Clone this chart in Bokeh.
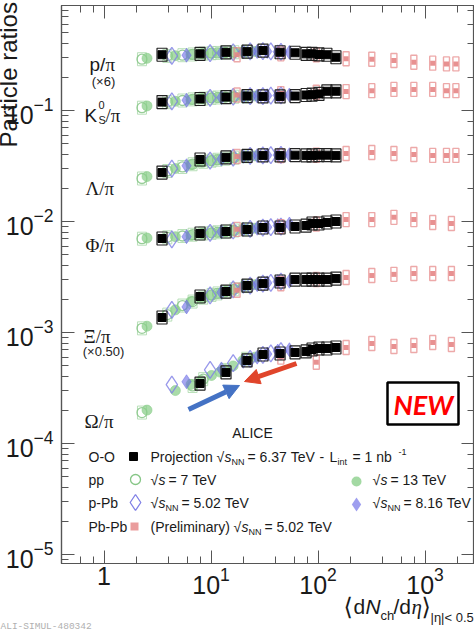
import math
from bokeh.plotting import figure
from bokeh.models import (Range1d, Label, LogAxis, LogTicker, LogTickFormatter,
                          CustomJSTickFormatter, BoxAnnotation, Arrow, NormalHead,
                          ColumnDataSource)
from bokeh.core.properties import value
from bokeh.embed import file_html
from bokeh.resources import INLINE

nan = float("nan")

# ---------------- data (particle ratios vs <dNch/deta>) ----------------
species_names = ["p/pi", "K0S/pi", "Lambda/pi", "Phi/pi", "Xi/pi", "Omega/pi"]
species_scale = [6.0, 1.0, 1.0, 1.0, 0.5, 1.0]

# O-O projection, sqrt(sNN) = 6.37 TeV
oo_x = [3.48, 7.89, 13.8, 21.7, 30.6, 44.2, 61.0, 77.3, 87.9, 102, 121, 147]
oo_p = [0.0530, 0.0540, 0.0557, 0.0565, 0.0578, 0.0558, 0.0552, 0.0540, 0.0540, 0.0533, 0.0530, 0.0503]
oo_k = [0.119, 0.127, 0.132, 0.135, 0.134, 0.134, 0.135, 0.138, 0.139, 0.141, 0.149, 0.149]
oo_lam = [0.0276, 0.0362, 0.0378, 0.0390, 0.0394, 0.0394, 0.0396, 0.0394, 0.0394, 0.0396, 0.0396, 0.0394]
oo_phi = [0.00703, 0.00780, 0.00813, 0.00847, 0.00883, 0.00883, 0.00902, 0.00920, 0.00960, 0.00960, 0.00980, 0.01000]
oo_xi = [0.00273, 0.00422, 0.00468, 0.00530, 0.00552, 0.00576, 0.00600, 0.00600, 0.00600, 0.00600, 0.00600, 0.00612]
oo_om = [nan, 0.000347, 0.000437, 0.000560, 0.000634, 0.000647, 0.000661, 0.000675, 0.000703, 0.000718, 0.000718, 0.000733]

# Pb-Pb 5.02 TeV (preliminary)
pb_x = [17.5, 44.9, 96.3, 183, 318, 512, 786, 1180, 1587, 1943]
pb_p = [0.0530, 0.0540, 0.0530, 0.0487, 0.0483, 0.0470, 0.0453, 0.0445, 0.0438, 0.0438]
pb_k = [0.138, 0.142, 0.146, 0.148, 0.151, 0.155, 0.155, 0.155, 0.151, 0.151]
pb_lam = [0.0385, 0.0392, 0.0395, 0.0410, 0.0419, 0.0410, 0.0402, 0.0394, 0.0394, 0.0394]
pb_x_heavy = [17.5, 44.9, 96.3, 183, 318, 512, 786, 1180, 1764]
pb_phi = [0.0085, 0.0090, 0.0095, 0.0104, 0.0104, 0.0109, 0.0104, 0.0098, 0.0096]
pb_xi = [0.0048, 0.0055, 0.0060, 0.00626, 0.00652, 0.00668, 0.0068, 0.0068, 0.0068]
pb_om = [nan, 0.00060, 0.00054, 0.000733, 0.000796, 0.000748, 0.000764, 0.000813, 0.00078]

# pp 7 TeV
pp7_x = [21.3, 16.5, 13.5, 11.5, 10.1, 8.45, 6.72, 5.40, 3.90, 2.26]
pp7_p = [0.0563, 0.0558, 0.0555, 0.0550, 0.0547, 0.0542, 0.0533, 0.0525, 0.0517, 0.0483]
pp7_k = [0.134, 0.133, 0.132, 0.131, 0.130, 0.128, 0.126, 0.123, 0.119, 0.106]
pp7_lam = [0.0387, 0.0376, 0.0368, 0.0360, 0.0353, 0.0345, 0.0328, 0.0310, 0.0285, 0.0244]
pp7_phi = [0.0085, 0.0083, 0.0081, 0.0080, 0.0079, 0.0078, 0.0076, 0.0074, 0.0072, 0.0070]
pp7_xi = [0.00524, 0.00490, 0.00464, 0.00450, 0.00436, 0.00412, 0.00380, 0.00350, 0.00290, 0.00218]
pp7_om = [0.00058, nan, 0.00046, nan, nan, 0.00038, 0.00033, nan, nan, 0.00019]

# pp 13 TeV
pp13_x = [25.8, 19.8, 16.1, 13.8, 12.1, 10.1, 8.07, 6.48, 4.64, 2.52]
pp13_p = [0.0567, 0.0563, 0.0558, 0.0555, 0.0550, 0.0547, 0.0542, 0.0533, 0.0520, 0.0492]
pp13_k = [0.135, 0.134, 0.133, 0.132, 0.131, 0.130, 0.128, 0.125, 0.121, 0.110]
pp13_lam = [0.0390, 0.0386, 0.0376, 0.0370, 0.0362, 0.0354, 0.0342, 0.0325, 0.0300, 0.0254]
pp13_phi = [0.0087, 0.0085, 0.0083, 0.0081, 0.0080, 0.0079, 0.0078, 0.0075, 0.0073, 0.0071]
pp13_xi = [0.00540, 0.00520, 0.00490, 0.00470, 0.00452, 0.00432, 0.00408, 0.00380, 0.00320, 0.00228]
pp13_om = [0.00060, 0.00056, 0.00050, 0.00046, 0.00044, 0.00041, 0.00037, 0.00034, 0.00030, 0.00020]

# p-Pb 5.02 TeV
ppb5_x = [45.0, 36.2, 30.5, 23.2, 16.1, 9.8, 4.3]
ppb5_p = [0.0563, 0.0567, 0.0570, 0.0567, 0.0558, 0.0547, 0.0517]
ppb5_k = [0.137, 0.136, 0.135, 0.135, 0.133, 0.130, 0.121]
ppb5_lam = [0.0398, 0.0396, 0.0394, 0.0390, 0.0376, 0.0354, 0.0300]
ppb5_phi = [0.0090, 0.0089, 0.0088, 0.0086, 0.0083, 0.0079, 0.0069]
ppb5_xi = [0.00576, 0.00560, 0.00552, 0.00530, 0.00490, 0.00432, 0.00320]
ppb5_om = [0.00068, 0.00065, 0.00063, 0.00058, 0.00053, 0.00046, 0.00034]

# p-Pb 8.16 TeV
ppb8_x = [54.0, 42.0, 33.5, 27.0, 20.0, 12.5, 5.9]
ppb8_p = [0.0558, 0.0563, 0.0567, 0.0567, 0.0563, 0.0550, 0.0525]
ppb8_k = [0.138, 0.137, 0.136, 0.135, 0.134, 0.131, 0.124]
ppb8_lam = [0.0400, 0.0398, 0.0395, 0.0392, 0.0386, 0.0365, 0.0318]
ppb8_phi = [0.0095, 0.0092, 0.0089, 0.0087, 0.0085, 0.0081, 0.0073]
ppb8_xi = [0.00580, 0.00576, 0.00560, 0.00540, 0.00520, 0.00460, 0.00340]
ppb8_om = [0.00070, 0.00068, 0.00064, 0.00060, 0.00055, 0.00047, 0.00036]

# ---------------- layout ----------------
W, H = 474, 634
LEFT, RIGHT, TOP, BOTTOM = 61, 474, 5, 563
x0, x1 = 0.4, 2900.0
y0, y1 = 8.3e-6, 0.883
LX0, LX1, LY0, LY1 = math.log10(x0), math.log10(x1), math.log10(y0), math.log10(y1)


def X(px):
    return 10 ** (LX0 + (px - LEFT) / (RIGHT - LEFT) * (LX1 - LX0))


def Y(py):
    return 10 ** (LY1 - (py - TOP) / (BOTTOM - TOP) * (LY1 - LY0))


SANS = "Liberation Sans"
SERIF = "Liberation Serif"
TXT = "#1a1a1a"
AX = "#555555"
NB = "\u00a0"

p = figure(width=W, height=H, x_axis_type="log", y_axis_type="log",
           x_range=Range1d(x0, x1), y_range=Range1d(y0, y1),
           output_backend="svg", toolbar_location=None,
           min_border_left=LEFT, min_border_right=W - RIGHT,
           min_border_top=TOP, min_border_bottom=H - BOTTOM)
p.grid.visible = False
p.outline_line_color = AX
p.outline_line_width = 1.2
p.background_fill_color = "white"
p.border_fill_color = "white"


def style_axis(ax, show_labels, standoff=8):
    ax.axis_line_color = AX
    ax.axis_line_width = 1.2
    ax.major_tick_line_color = AX
    ax.minor_tick_line_color = AX
    ax.major_tick_in = 13
    ax.major_tick_out = 0
    ax.minor_tick_in = 7
    ax.minor_tick_out = 0
    if show_labels:
        ax.major_label_text_font = SANS
        ax.major_label_text_font_size = "25px"
        ax.major_label_text_color = TXT
        ax.major_label_standoff = standoff
    else:
        ax.formatter = CustomJSTickFormatter(code="return ''")
        ax.major_label_text_font_size = "1px"
        ax.major_label_standoff = 0


p.xaxis.ticker = LogTicker()
p.xaxis.formatter = LogTickFormatter(min_exponent=1)
style_axis(p.xaxis[0], True, standoff=3)
style_axis(p.yaxis[0], True, standoff=8)
top_ax = LogAxis()
right_ax = LogAxis()
style_axis(top_ax, False)
style_axis(right_ax, False)
p.add_layout(top_ax, "above")
p.add_layout(right_ax, "right")


def flatten(xs, arrays, heavy_xs=None, heavy_from=3):
    fx, fy = [], []
    for i, arr in enumerate(arrays):
        xx = heavy_xs if (heavy_xs is not None and i >= heavy_from) else xs
        for xv, yv in zip(xx, arr):
            if yv == yv:
                fx.append(xv)
                fy.append(yv * species_scale[i])
    return ColumnDataSource(dict(x=fx, y=fy))


src_pp7 = flatten(pp7_x, [pp7_p, pp7_k, pp7_lam, pp7_phi, pp7_xi, pp7_om])
src_pp13 = flatten(pp13_x, [pp13_p, pp13_k, pp13_lam, pp13_phi, pp13_xi, pp13_om])
src_ppb5 = flatten(ppb5_x, [ppb5_p, ppb5_k, ppb5_lam, ppb5_phi, ppb5_xi, ppb5_om])
src_ppb8 = flatten(ppb8_x, [ppb8_p, ppb8_k, ppb8_lam, ppb8_phi, ppb8_xi, ppb8_om])
src_pb = flatten(pb_x, [pb_p, pb_k, pb_lam, pb_phi, pb_xi, pb_om], heavy_xs=pb_x_heavy)
src_oo = flatten(oo_x, [oo_p, oo_k, oo_lam, oo_phi, oo_xi, oo_om])

GREEN_O = "#86c686"
GREEN_F = "#8ccf8c"
BLUE_O = "#8080e6"
BLUE_F = "#6a6ae6"
PINK = "#e58585"

p.rect("x", "y", width=9, height=13, width_units="screen", height_units="screen",
       source=src_pp7, fill_color=None, line_color="#a8d8a8", line_width=1.0, line_alpha=0.8)
p.scatter("x", "y", source=src_pp7, marker="circle", size=10, fill_color=None,
          line_color=GREEN_O, line_width=1.3, line_alpha=0.85)
p.scatter("x", "y", source=src_pp13, marker="circle", size=10, fill_color=GREEN_F,
          fill_alpha=0.75, line_color=GREEN_F, line_alpha=0.6)
p.scatter("x", "y", source=src_ppb5, marker="diamond", size=17, fill_color=None,
          line_color=BLUE_O, line_width=1.3, line_alpha=0.8)
p.scatter("x", "y", source=src_ppb8, marker="diamond", size=14, fill_color=BLUE_F,
          fill_alpha=0.6, line_color=BLUE_F, line_alpha=0.5)
p.rect("x", "y", width=6, height=14, width_units="screen", height_units="screen",
       source=src_pb, fill_color=None, line_color=PINK, line_width=1.4, line_alpha=0.7)
p.scatter("x", "y", source=src_pb, marker="square", size=5, fill_color=PINK,
          fill_alpha=0.9, line_color=None)
p.rect("x", "y", width=10, height=13, width_units="screen", height_units="screen",
       source=src_oo, fill_color=None, line_color="#222222", line_width=1.2)
p.scatter("x", "y", source=src_oo, marker="square", size=8, fill_color="black",
          line_color="black")


def T(px, py, s, size=14, font=SANS, color=TXT, style="normal", align="left",
      base="middle", angle=0.0):
    p.add_layout(Label(x=X(px), y=Y(py), text=s, text_font=font,
                       text_font_size=f"{size}px", text_color=color,
                       text_font_style=style, text_align=align,
                       text_baseline=base, angle=angle))


def TO(px, py, s, size=14, font=SANS, color=TXT, style="normal", align="left",
       base="alphabetic", angle=0.0):
    # text outside the frame: text glyph drawn at overlay level (not clipped)
    p.text(x=[X(px)], y=[Y(py)], text=[s], text_font=value(font),
           text_font_size=value(f"{size}px"), text_color=color,
           text_font_style=value(style), text_align=value(align),
           text_baseline=value(base), angle=angle, level="overlay")


def sqrt_s(px, py, nn):
    T(px, py, "√", 14)
    T(px + 8, py, "s", 14, style="italic")
    if nn:
        T(px + 15, py + 5, "NN", 9)
        return px + 29
    return px + 15


# species labels
T(89, 64, "p/", 19, base="alphabetic")
T(105, 64, "π", 19, SERIF, base="alphabetic")
T(103, 81, "(×6)", 13, align="center", base="alphabetic")
T(84, 115, "K", 19, base="alphabetic")
T(98, 104, "0", 11, base="alphabetic")
T(98, 119, "S", 11, base="alphabetic")
T(105, 115, "/π", 19, SERIF, base="alphabetic")
T(85, 188, "Λ/π", 19, SERIF, base="alphabetic")
T(85, 245, "Φ/π", 19, SERIF, base="alphabetic")
T(83, 336, "Ξ/π", 19, SERIF, base="alphabetic")
T(103, 351, "(×0.50)", 13, align="center", base="alphabetic")
T(84, 421, "Ω/π", 19, SERIF, base="alphabetic")

# legend
T(252, 432, "ALICE", 14, align="center")
T(88, 456, "O-O")
p.scatter([X(133)], [Y(456)], marker="square", size=8, fill_color="black", line_color="black")
T(150, 456, "Projection")
e = sqrt_s(216, 456, True)
T(e + 2, 456, "=" + NB + "6.37" + NB + "TeV")
T(319, 456, "-")
T(329, 456, "L")
T(337, 461, "int", 9)
T(352, 456, "=" + NB + "1" + NB + "nb")
T(398, 451, "-1", 9)

T(88, 479, "pp")
p.scatter([X(135)], [Y(479)], marker="circle", size=10, fill_color=None, line_color=GREEN_O, line_width=1.3)
e = sqrt_s(150, 479, False)
T(e + 3, 479, "=" + NB + "7" + NB + "TeV")
p.scatter([X(356)], [Y(481)], marker="circle", size=10, fill_color=GREEN_F, fill_alpha=0.8, line_color=None)
e = sqrt_s(372, 479, False)
T(e + 3, 479, "=" + NB + "13" + NB + "TeV")

T(88, 502, "p-Pb")
p.scatter([X(135)], [Y(502)], marker="diamond", size=16, fill_color=None, line_color=BLUE_O, line_width=1.3)
e = sqrt_s(150, 502, True)
T(e + 2, 502, "=" + NB + "5.02" + NB + "TeV")
p.scatter([X(356)], [Y(504)], marker="diamond", size=14, fill_color=BLUE_F, fill_alpha=0.65, line_color=None)
e = sqrt_s(372, 502, True)
T(e + 2, 502, "=" + NB + "8.16" + NB + "TeV")

T(88, 526, "Pb-Pb")
p.scatter([X(134)], [Y(526)], marker="square", size=8, fill_color=PINK, fill_alpha=0.8, line_color=None)
T(150, 526, "(Preliminary)")
e = sqrt_s(233, 526, True)
T(e + 2, 526, "=" + NB + "5.02" + NB + "TeV")

# NEW box
p.add_layout(BoxAnnotation(left=X(387), right=X(458), top=Y(382), bottom=Y(424),
                           fill_color="white", fill_alpha=1.0, line_color="black",
                           line_alpha=1.0, line_width=2.5))
T(423, 404, "NEW", 27, "Lato", "#ff0000", "bold italic", align="center")

# arrows
BLUE_A = "#4472c4"
RED_A = "#e0452b"
p.add_layout(Arrow(end=NormalHead(size=15, fill_color=BLUE_A, line_color=BLUE_A),
                   x_start=X(188), y_start=Y(409), x_end=X(239), y_end=Y(385),
                   line_color=BLUE_A, line_width=5))
p.add_layout(Arrow(end=NormalHead(size=15, fill_color=RED_A, line_color=RED_A),
                   x_start=X(296), y_start=Y(363), x_end=X(244), y_end=Y(381),
                   line_color=RED_A, line_width=5))

# axis titles (outside the frame)
TO(8, 147, "Particle ratios", 24, angle=math.pi / 2)
TO(343, 606, "⟨", 24, "DejaVu Sans")
TO(353, 606, "d", 21)
TO(365, 606, "N", 21, style="italic")
TO(380, 615, "ch", 13)
TO(393, 606, "/d", 21)
TO(411, 606, "η", 21, SERIF, style="italic")
TO(421, 606, "⟩", 24, "DejaVu Sans")
TO(430, 617, "|η|<" + NB + "0.5", 13)

TO(0, 626, "ALI-SIMUL-480342", 9.5, "Liberation Mono", "#b0b0b0")

open("out.html", "w").write(file_html(p, INLINE))
